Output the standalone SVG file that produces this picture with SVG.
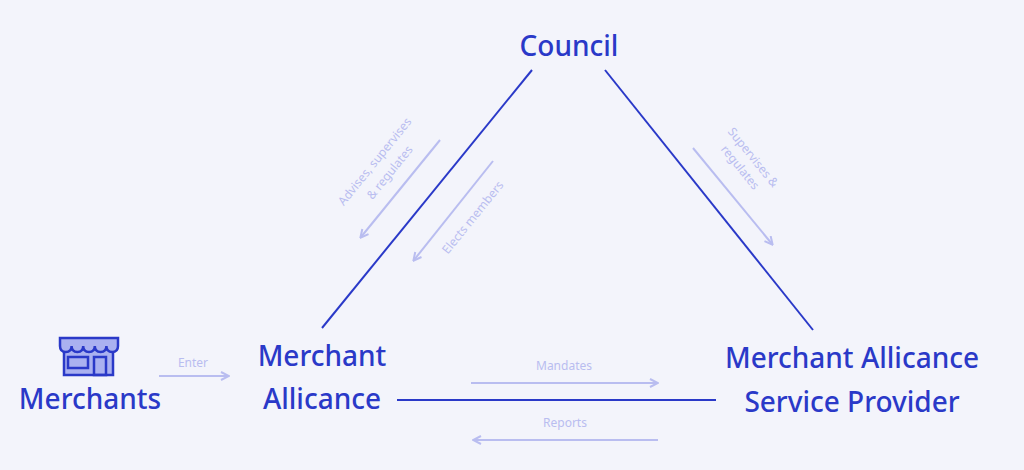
<svg xmlns="http://www.w3.org/2000/svg" width="1024" height="470" viewBox="0 0 1024 470">
<defs>
<style>
.n{font-family:"Futura","Noto Sans","Liberation Sans",sans-serif;font-weight:500;fill:#2a39c8;font-size:28px}
.l{font-family:"Noto Sans","Liberation Sans",sans-serif;fill:#b9bdf0;font-size:12px}
.m{stroke:#2a39c8;stroke-width:2;fill:none}
.a{stroke:#b9bdf0;stroke-width:2;fill:none;marker-end:url(#ah)}
</style>
<marker id="ah" markerWidth="10" markerHeight="10" refX="8" refY="5" orient="auto" markerUnits="userSpaceOnUse"><path d="M1,1 L9,5 L1,9" fill="none" stroke="#b9bdf0" stroke-width="2"/></marker>
</defs>
<rect width="1024" height="470" fill="#f3f4fb"/>
<g id="connectors">
<line class="m" x1="532" y1="70" x2="322" y2="328"/>
<line class="m" x1="605" y1="70" x2="813" y2="330"/>
<line class="m" x1="397" y1="400" x2="716" y2="400"/>
<line class="a" x1="440" y1="140" x2="361" y2="237"/>
<line class="a" x1="493" y1="161" x2="414" y2="260"/>
<line class="a" x1="693" y1="148" x2="772" y2="244"/>
<line class="a" x1="471" y1="383" x2="657" y2="383"/>
<line class="a" x1="658" y1="440" x2="474" y2="440"/>
<line class="a" x1="159" y1="376" x2="228" y2="376"/>
<text class="l" transform="translate(378,164) rotate(-51)" text-anchor="middle">Advises, supervises</text>
<text class="l" transform="translate(393,175) rotate(-51)" text-anchor="middle">&amp; regulates</text>
<text class="l" transform="translate(476,220) rotate(-51)" text-anchor="middle">Elects members</text>
<text class="l" transform="translate(750,160) rotate(51)" text-anchor="middle">Supervises &amp;</text>
<text class="l" transform="translate(737,170) rotate(51)" text-anchor="middle">regulates</text>
<text class="l" x="564" y="370" text-anchor="middle">Mandates</text>
<text class="l" x="565" y="427" text-anchor="middle">Reports</text>
<text class="l" x="193" y="367" text-anchor="middle">Enter</text>
</g>
<g id="council"><text class="n" x="569" y="56" text-anchor="middle">Council</text></g>
<g id="merchants">
<rect x="64" y="346" width="49" height="29" fill="#aab1f0" stroke="#2a39c8" stroke-width="2.5"/>
<path d="M60,338 H118 V346 Q118,352 112.2,352 Q106.4,352 106.4,346 Q106.4,352 100.6,352 Q94.8,352 94.8,346 Q94.8,352 89,352 Q83.2,352 83.2,346 Q83.2,352 77.4,352 Q71.6,352 71.6,346 Q71.6,352 65.8,352 Q60,352 60,346 Z" fill="#aab1f0" stroke="#2a39c8" stroke-width="2.5"/>
<rect x="68" y="357" width="20" height="11" fill="none" stroke="#2a39c8" stroke-width="2.5"/>
<rect x="94" y="357" width="12" height="18" fill="none" stroke="#2a39c8" stroke-width="2.5"/>
<text class="n" x="90" y="409" text-anchor="middle">Merchants</text>
</g>
<g id="ma"><text class="n" x="322" y="366" text-anchor="middle">Merchant</text><text class="n" x="322" y="409" text-anchor="middle">Allicance</text></g>
<g id="masp"><text class="n" x="852" y="368" text-anchor="middle">Merchant Allicance</text><text class="n" x="852" y="412" text-anchor="middle">Service Provider</text></g>
</svg>
